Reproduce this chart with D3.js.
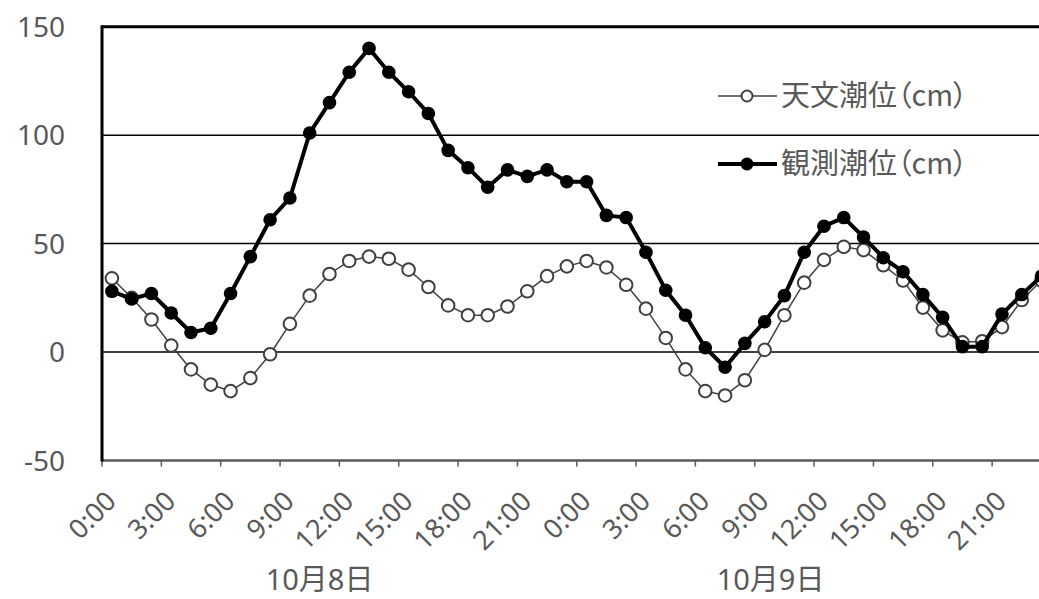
<!DOCTYPE html>
<html><head><meta charset="utf-8">
<script src="https://cdn.jsdelivr.net/npm/d3@7"></script>
<style>
html,body{margin:0;padding:0;background:#fff;overflow:hidden;}
svg text{font-family:"Noto Sans","Noto Sans CJK JP",sans-serif;fill:#595959;}
</style></head>
<body><svg id="c" width="1039" height="599"></svg>
<script>
const hours = ["0:00","1:00","2:00","3:00","4:00","5:00","6:00","7:00","8:00","9:00","10:00","11:00","12:00","13:00","14:00","15:00","16:00","17:00","18:00","19:00","20:00","21:00","22:00","23:00"];
const days = ["10月8日","10月9日"];
const categories = days.flatMap(d => hours.map(h => d + " " + h));
const astroTide = [34,25,15,3,-8,-15,-18,-12,-1,13,26,36,42,44,43,38,30,21.5,17,17,21,28,35,39.5,
                   42,39,31,20,6.5,-8,-18,-20,-13,1,17,32,42.5,48.5,47,40,33,20.5,10,4.5,5,11.5,24,33];
const obsTide = [28,24.5,27,18,9,11,27,44,61,71,101,115,129,140,129,120,110,93,85,76,84,81,84,78.5,
                 78.5,63,62,46,28.5,17,2,-7,4,14,26,46,58,62,53,43.5,37,26.5,16,2.5,2.5,17.5,26.5,35];
const yTicks = [-50,0,50,100,150];
const seriesNames = ["天文潮位（cm）","観測潮位（cm）"];

const svg = d3.select("#c");
const left = 102, bandW = 19.78;
const x = d3.scaleBand().domain(d3.range(categories.length)).range([left, left + categories.length*bandW]).padding(0);
const y = d3.scaleLinear().domain([-50,150]).range([460.5, 26.7]);
const cx = i => x(i) + x.bandwidth()/2;
const xPos = p => x.range()[0] + p * x.step();

const g = svg.append("g");
// gridlines
g.selectAll("line.grid").data(yTicks.filter(t => t > -50)).enter().append("line")
  .attr("x1", left).attr("x2", 1060).attr("y1", d => y(d)).attr("y2", d => y(d))
  .attr("stroke", "#000").attr("stroke-width", d => d === 150 ? 3 : 1.5);
// y tick labels
g.selectAll("text.yl").data(yTicks).enter().append("text")
  .attr("x", 65).attr("y", d => y(d)).attr("dy", "0.36em").attr("text-anchor", "end")
  .style("font-size", "28px").text(d => d);
// x axis
g.append("line").attr("x1", left).attr("x2", 1060).attr("y1", y(-50)).attr("y2", y(-50))
  .attr("stroke", "#595959").attr("stroke-width", 2.5);
const tickIdx = d3.range(0, categories.length + 1, 3);
g.selectAll("line.xt").data(tickIdx).enter().append("line")
  .attr("x1", d => xPos(d)).attr("x2", d => xPos(d))
  .attr("y1", y(-50)).attr("y2", y(-50) + 6).attr("stroke", "#595959").attr("stroke-width", 1.5);
// left axis
g.append("line").attr("x1", left).attr("x2", left).attr("y1", y(150) - 1.5).attr("y2", y(-50) + 1)
  .attr("stroke", "#000").attr("stroke-width", 3);
// x tick labels
const labIdx = d3.range(0, categories.length, 3);
g.selectAll("text.xl").data(labIdx).enter().append("text")
  .attr("transform", d => `translate(${cx(d) - 1},496) rotate(-45)`)
  .attr("text-anchor", "end").attr("dy", "0.36em")
  .style("font-size", "27px").text(d => hours[d % 24]);
// day labels (centred under each day's group)
const dayCentre = [11.0, 33.8];
g.selectAll("text.dl").data(days).enter().append("text")
  .attr("x", (d, k) => xPos(dayCentre[k]))
  .attr("y", 590).attr("text-anchor", "middle")
  .style("font-size", "29px").text(d => d);

// series
const line = d3.line().x((d, i) => cx(i)).y(d => y(d));
g.append("path").datum(astroTide).attr("d", line).attr("fill", "none")
  .attr("stroke", "#404040").attr("stroke-width", 1.5);
g.selectAll("circle.a").data(astroTide).enter().append("circle")
  .attr("cx", (d, i) => cx(i)).attr("cy", d => y(d)).attr("r", 6.3)
  .attr("fill", "#fff").attr("stroke", "#404040").attr("stroke-width", 2);
g.append("path").datum(obsTide).attr("d", line).attr("fill", "none")
  .attr("stroke", "#000").attr("stroke-width", 4);
g.selectAll("circle.o").data(obsTide).enter().append("circle")
  .attr("cx", (d, i) => cx(i)).attr("cy", d => y(d)).attr("r", 6.8)
  .attr("fill", "#000");

// legend
const lg = svg.append("g");
const rows = [96, 164];
lg.append("line").attr("x1", 718).attr("x2", 777).attr("y1", rows[0]).attr("y2", rows[0]).attr("stroke", "#404040").attr("stroke-width", 1.5);
lg.append("circle").attr("cx", 747).attr("cy", rows[0]).attr("r", 5.5).attr("fill", "#fff").attr("stroke", "#404040").attr("stroke-width", 2);
lg.append("line").attr("x1", 718).attr("x2", 777).attr("y1", rows[1]).attr("y2", rows[1]).attr("stroke", "#000").attr("stroke-width", 4);
lg.append("circle").attr("cx", 747).attr("cy", rows[1]).attr("r", 6.5).attr("fill", "#000");
lg.selectAll("text").data(seriesNames).enter().append("text")
  .attr("x", 781).attr("y", (d, i) => rows[i]).attr("dy", "0.36em")
  .style("font-size", "29px").style("font-family", "'Noto Sans CJK JP',sans-serif")
  .style("font-feature-settings", "'palt'").text(d => d);
</script></body></html>
